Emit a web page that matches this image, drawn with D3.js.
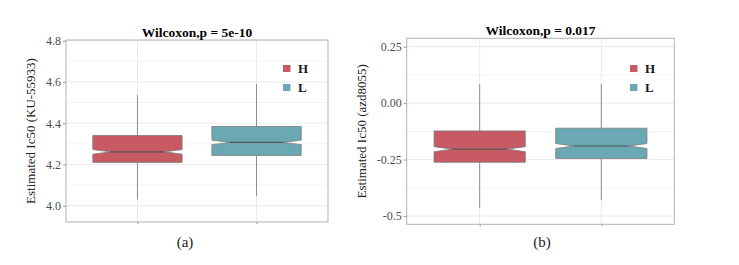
<!DOCTYPE html>
<html>
<head>
<meta charset="utf-8">
<script src="https://cdn.jsdelivr.net/npm/d3@7"></script>
<style>
  body { margin: 0; background: #fff; }
  svg { display: block; }
  svg text { font-family: 'Liberation Serif', serif; }
</style>
</head>
<body>
<script>
'use strict';

// groups shared by both panels
const groups = ["H", "L"];
const groupColors = ["#c85a63", "#6aa8b3"];

// panel (a): KU-55933
const titleA = "Wilcoxon,p = 5e-10";
const yLabelA = "Estimated Ic50 (KU-55933)";
const tagA = "(a)";
const yTicksA = [4.0, 4.2, 4.4, 4.6, 4.8];
const yTickLabelsA = ["4.0", "4.2", "4.4", "4.6", "4.8"];
const whiskLowA = [4.03, 4.046];
const q1A = [4.21, 4.244];
const medianA = [4.261, 4.307];
const q3A = [4.34, 4.384];
const whiskHighA = [4.536, 4.59];
const notchA = [0.011, 0.011];

// panel (b): azd8055
const titleB = "Wilcoxon,p = 0.017";
const yLabelB = "Estimated Ic50 (azd8055)";
const tagB = "(b)";
const yTicksB = [-0.5, -0.25, 0, 0.25];
const yTickLabelsB = ["-0.5", "-0.25", "0.00", "0.25"];
const whiskLowB = [-0.465, -0.429];
const q1B = [-0.262, -0.245];
const medianB = [-0.204, -0.19];
const q3B = [-0.123, -0.111];
const whiskHighB = [0.084, 0.084];
const notchB = [0.011, 0.011];

(function() {

  let svg = "";

  window.onload = function() {
    svg = d3.select('body')
      .append('svg')
      .attr('width', 739)
      .attr('height', 265);

    drawPanel({
      left: 66, right: 328, top: 40, bottom: 222,
      yDomain: [4.0, 4.8], yRange: [205.7, 40.7],
      titleY: 37, labelX: 35, tagY: 247, tagX: 185,
      legendX: 283, legendY: 65
    }, {
      title: titleA, yLabel: yLabelA, tag: tagA,
      ticks: yTicksA, tickLabels: yTickLabelsA,
      lo: whiskLowA, q1: q1A, med: medianA, q3: q3A, hi: whiskHighA, notch: notchA
    });

    drawPanel({
      left: 406.7, right: 674.3, top: 38.3, bottom: 224.3,
      yDomain: [-0.5, 0.25], yRange: [216, 46.7],
      titleY: 35, labelX: 366, tagY: 247, tagX: 542,
      legendX: 630, legendY: 65
    }, {
      title: titleB, yLabel: yLabelB, tag: tagB,
      ticks: yTicksB, tickLabels: yTickLabelsB,
      lo: whiskLowB, q1: q1B, med: medianB, q3: q3B, hi: whiskHighB, notch: notchB
    });
  }

  // one ggplot-like notched boxplot panel
  function drawPanel(lay, d) {
    let yScale = d3.scaleLinear().domain(lay.yDomain).range(lay.yRange);
    let xScale = d3.scalePoint().domain(groups)
      .range([lay.left, lay.right]).padding(0.6);
    let boxW = xScale.step() * 0.75;

    let g = svg.append('g');

    // minor grid (between major ticks)
    let step = d.ticks[1] - d.ticks[0];
    let minor = d.ticks.map((t) => t - step / 2).concat([d.ticks[d.ticks.length - 1] + step / 2])
      .filter((v) => yScale(v) > lay.top && yScale(v) < lay.bottom);
    g.selectAll('.minor')
      .data(minor)
      .enter()
      .append('line')
        .attr('x1', lay.left).attr('x2', lay.right)
        .attr('y1', (v) => yScale(v)).attr('y2', (v) => yScale(v))
        .attr('stroke', '#f4f4f4').attr('stroke-width', 1);

    // major grid
    g.selectAll('.major')
      .data(d.ticks)
      .enter()
      .append('line')
        .attr('x1', lay.left).attr('x2', lay.right)
        .attr('y1', (v) => yScale(v)).attr('y2', (v) => yScale(v))
        .attr('stroke', '#ebebeb').attr('stroke-width', 1);

    g.selectAll('.vgrid')
      .data(groups)
      .enter()
      .append('line')
        .attr('x1', (k) => xScale(k)).attr('x2', (k) => xScale(k))
        .attr('y1', lay.top).attr('y2', lay.bottom)
        .attr('stroke', '#ebebeb').attr('stroke-width', 1);

    // panel border
    g.append('rect')
      .attr('x', lay.left).attr('y', lay.top)
      .attr('width', lay.right - lay.left).attr('height', lay.bottom - lay.top)
      .attr('fill', 'none').attr('stroke', '#b3b3b3').attr('stroke-width', 1);

    // y axis
    let yAxis = d3.axisLeft(yScale)
      .tickValues(d.ticks)
      .tickFormat((v, i) => d.tickLabels[i])
      .tickSize(3).tickPadding(2);
    let ya = g.append('g')
      .attr('transform', 'translate(' + lay.left + ',0)')
      .call(yAxis);
    ya.select('.domain').remove();
    ya.selectAll('line').attr('stroke', '#999');
    ya.selectAll('text')
      .attr('fill', '#4d4d4d')
      .style('font-size', '12px');

    // x axis ticks only
    let xAxis = d3.axisBottom(xScale).tickSize(2).tickFormat('');
    let xa = g.append('g')
      .attr('transform', 'translate(0,' + lay.bottom + ')')
      .call(xAxis);
    xa.select('.domain').remove();
    xa.selectAll('line').attr('stroke', '#999');

    // whiskers
    groups.forEach(function(k, i) {
      let cx = xScale(k);
      g.append('line')
        .attr('x1', cx).attr('x2', cx)
        .attr('y1', yScale(d.hi[i])).attr('y2', yScale(d.q3[i]))
        .attr('stroke', '#8c8c8c').attr('stroke-width', 1);
      g.append('line')
        .attr('x1', cx).attr('x2', cx)
        .attr('y1', yScale(d.q1[i])).attr('y2', yScale(d.lo[i]))
        .attr('stroke', '#8c8c8c').attr('stroke-width', 1);
    });

    // notched boxes
    let boxPath = function(k, i) {
      let x0 = xScale(k) - boxW / 2, x1 = xScale(k) + boxW / 2;
      let inset = boxW * 0.2;
      let m = yScale(d.med[i]);
      let nu = yScale(d.med[i] + d.notch[i]), nl = yScale(d.med[i] - d.notch[i]);
      let pts = [
        [x0, yScale(d.q3[i])], [x1, yScale(d.q3[i])], [x1, nu], [x1 - inset, m], [x1, nl],
        [x1, yScale(d.q1[i])], [x0, yScale(d.q1[i])], [x0, nl], [x0 + inset, m], [x0, nu]
      ];
      return d3.line()(pts) + 'Z';
    };
    g.selectAll('.box')
      .data(groups)
      .enter()
      .append('path')
        .attr('d', (k, i) => boxPath(k, i))
        .attr('fill', (k, i) => groupColors[i])
        .attr('stroke', '#7a7a7a')
        .attr('stroke-width', 0.8);

    g.selectAll('.median')
      .data(groups)
      .enter()
      .append('line')
        .attr('x1', (k) => xScale(k) - boxW / 2 + boxW * 0.2)
        .attr('x2', (k) => xScale(k) + boxW / 2 - boxW * 0.2)
        .attr('y1', (k, i) => yScale(d.med[i]))
        .attr('y2', (k, i) => yScale(d.med[i]))
        .attr('stroke', '#555').attr('stroke-width', 1.2);

    // legend
    let leg = g.selectAll('.leg')
      .data(groups)
      .enter()
      .append('g')
        .attr('transform', (k, i) => 'translate(' + lay.legendX + ',' + (lay.legendY + i * 19) + ')');
    leg.append('rect')
      .attr('width', 7.5).attr('height', 7)
      .attr('fill', (k, i) => groupColors[i]);
    leg.append('text')
      .attr('x', 15).attr('y', 7.5)
      .style('font-size', '13px')
      .style('font-weight', 'bold')
      .attr('fill', '#1a1a1a')
      .text((k) => k);

    // title, axis label, panel tag
    g.append('text')
      .attr('x', (lay.left + lay.right) / 2)
      .attr('y', lay.titleY)
      .attr('text-anchor', 'middle')
      .style('font-size', '13.5px')
      .style('font-weight', 'bold')
      .text(d.title);

    g.append('text')
      .attr('transform', 'translate(' + lay.labelX + ',' + ((lay.top + lay.bottom) / 2) + ')rotate(-90)')
      .attr('text-anchor', 'middle')
      .attr('fill', '#222')
      .style('font-size', '13px')
      .text(d.yLabel);

    g.append('text')
      .attr('x', lay.tagX)
      .attr('y', lay.tagY)
      .attr('text-anchor', 'middle')
      .attr('fill', '#222')
      .style('font-size', '15px')
      .text(d.tag);
  }
})();
</script>
</body>
</html>
